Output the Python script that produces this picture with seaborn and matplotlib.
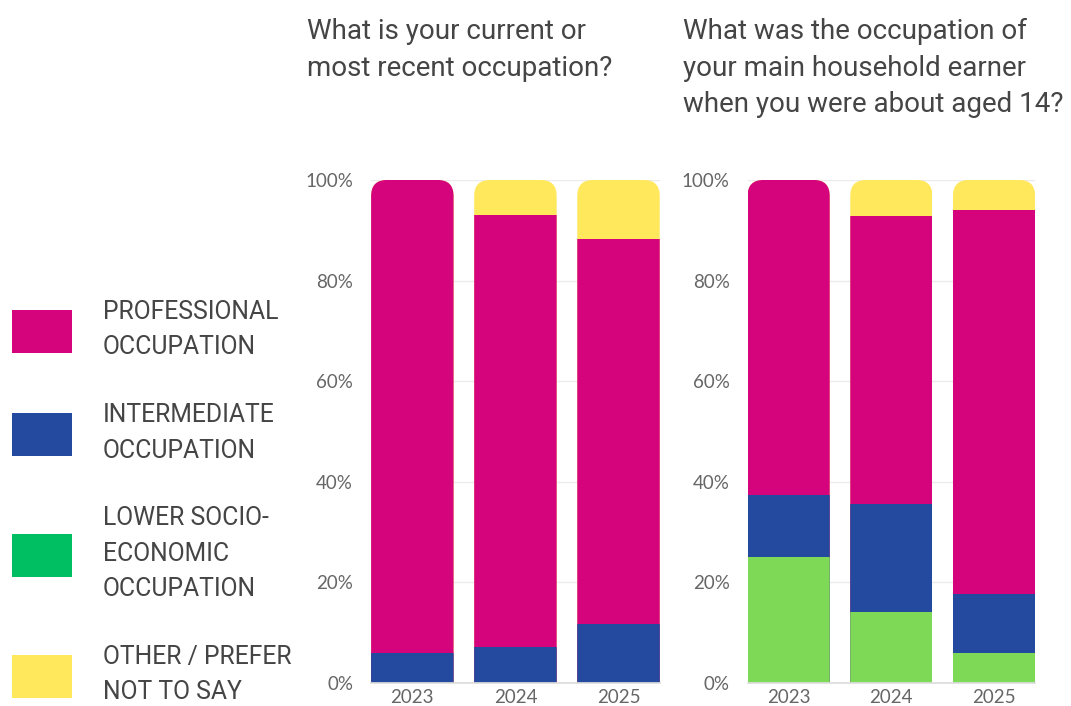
import numpy as np
import pandas as pd
import seaborn as sns
import matplotlib.pyplot as plt
from matplotlib.patches import Patch, FancyBboxPatch

years = ["2023", "2024", "2025"]
layers = ["LOWER SOCIO-\nECONOMIC\nOCCUPATION", "INTERMEDIATE\nOCCUPATION",
          "PROFESSIONAL\nOCCUPATION", "OTHER / PREFER\nNOT TO SAY"]
# bottom -> top, percent
current_lower = [0, 0, 0]
current_inter = [6.0, 7.1, 11.8]
current_prof = [94.0, 86.0, 76.4]
current_other = [0, 6.9, 11.8]
parent_lower = [25.0, 14.1, 5.9]
parent_inter = [12.3, 21.5, 11.7]
parent_prof = [62.7, 57.3, 76.5]
parent_other = [0, 7.1, 5.9]

titles = ["What is your current or\nmost recent occupation?",
          "What was the occupation of\nyour main household earner\nwhen you were about aged 14?"]
bar_colors = ["#7ED957", "#234A9F", "#D5047D", "#FFE85C"]
legend_colors = ["#D5047D", "#234A9F", "#00BF63", "#FFE85C"]
text_col = "#454545"
tick_col = "#666666"

sns.set_theme(style="white")
plt.rcParams['font.family'] = ['Roboto', 'DejaVu Sans']

fig = plt.figure(figsize=(10.71, 7.06), dpi=100)
ax1 = fig.add_axes([0.3465, 0.0326, 0.2695, 0.7125])
ax2 = fig.add_axes([0.698, 0.0326, 0.2685, 0.7125])


def draw(ax, series):
    cum = np.cumsum(np.array(series), axis=0)
    df = pd.DataFrame({"year": years * 4,
                       "layer": np.repeat(range(4), 3),
                       "top": cum.ravel()})
    # draw from the top layer down so lower layers overlay
    for i in range(3, -1, -1):
        sub = df[df["layer"] == i]
        sns.barplot(data=sub, x="year", y="top", color=bar_colors[i],
                    saturation=1, width=0.8, linewidth=0, ax=ax, errorbar=None)
    ax.set_xlim(-0.4, 2.4)
    ax.set_ylim(0, 100)
    # rounded top corners: clip each column to a rounded box
    first = ax.patches[:3]
    for p in first:
        x, w = p.get_x(), p.get_width()
        clip = FancyBboxPatch((x, -20), w, 120,
                              boxstyle="round,pad=0,rounding_size=0.155",
                              mutation_aspect=20.5, transform=ax.transData)
        for q in ax.patches:
            if abs(q.get_x() - x) < 1e-6:
                q.set_clip_path(clip)
    ax.set_yticks([0, 20, 40, 60, 80, 100])
    ax.set_yticklabels([f"{v}%" for v in range(0, 101, 20)])
    ax.grid(axis="y", color="#EBEBEB", linewidth=1)
    ax.set_axisbelow(True)
    for s in ["top", "right", "left"]:
        ax.spines[s].set_visible(False)
    ax.spines["bottom"].set_color("#DDDDDD")
    ax.set_xlabel("")
    ax.set_ylabel("")
    ax.tick_params(axis="y", length=0, pad=13, colors=tick_col, labelsize=13.5)
    ax.tick_params(axis="x", length=0, pad=4, colors=tick_col, labelsize=13.5)
    for t in ax.get_xticklabels() + ax.get_yticklabels():
        t.set_family(['Lato', 'DejaVu Sans'])


draw(ax1, [current_lower, current_inter, current_prof, current_other])
draw(ax2, [parent_lower, parent_inter, parent_prof, parent_other])

fig.text(0.2866, 0.974, titles[0], ha="left", va="top", fontsize=20,
         color=text_col, linespacing=1.45)
fig.text(0.6377, 0.974, titles[1], ha="left", va="top", fontsize=20,
         color=text_col, linespacing=1.45)

order = [2, 1, 0, 3]
handles = [Patch(facecolor=legend_colors[k], edgecolor="none") for k in range(4)]
leg = fig.legend(handles, [layers[i] for i in order], loc="upper left",
                 bbox_to_anchor=(0.0112, 0.575), frameon=False, fontsize=17.8,
                 handlelength=2.43, handleheight=2.28, handletextpad=1.25,
                 labelspacing=1.77, borderpad=0, borderaxespad=0)
for t in leg.get_texts():
    t.set_color(text_col)
    t.set_linespacing(1.6)

fig.savefig("out.png", dpi=100)
